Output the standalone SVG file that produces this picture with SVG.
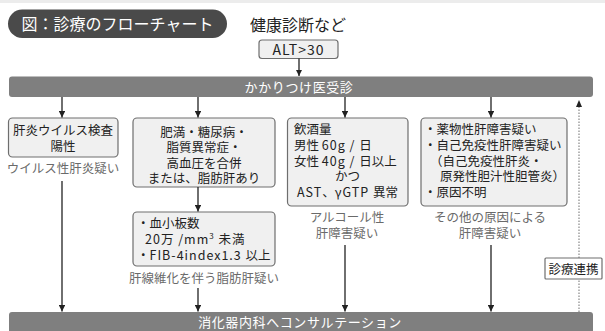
<svg xmlns="http://www.w3.org/2000/svg" width="605" height="331" viewBox="0 0 605 331">
<style>
text{font-family:"Noto Sans CJK JP","Noto Sans",sans-serif;}
.bx{fill:#f0f0f0;stroke:#6e6e6e;stroke-width:1.2;}
.bar{fill:#7f7f7f;}
.t{font-size:12.5px;fill:#222;}
.lt{letter-spacing:1px;}
.lb{font-size:12.5px;fill:#6a6a6a;text-anchor:middle;}
.bt{font-size:13px;fill:#fff;text-anchor:middle;letter-spacing:0.6px;}
.ln{stroke:#222;stroke-width:1.3;fill:none;}
.dot{stroke:#888;stroke-width:1.2;stroke-dasharray:1.5 1.5;fill:none;}
</style>
<defs>
<marker id="ah" viewBox="0 0 10 10" refX="10" refY="5" markerWidth="5" markerHeight="5" orient="auto" markerUnits="strokeWidth"><path d="M0,0L10,5L0,10z" fill="#222"/></marker>
</defs>
<rect x="0" y="0" width="605" height="3" fill="#ececec"/>
<g id="title">
<rect x="8" y="9.5" width="219" height="28.5" rx="14.25" fill="#4a4a4a"/>
<text x="117.5" y="30" font-size="16" fill="#fff" text-anchor="middle">図：診療のフローチャート</text>
</g>
<g id="kenshin">
<text x="250" y="31" font-size="16" fill="#222">健康診断など</text>
</g>
<g id="alt">
<rect class="bx" x="259" y="40" width="79" height="18.5" rx="3"/>
<text x="298.5" y="54.5" font-size="14" fill="#222" text-anchor="middle" letter-spacing="1">ALT&gt;30</text>
</g>
<g id="kakaritsuke">
<rect class="bar" x="9" y="76.5" width="584" height="20.5" rx="3"/>
<text class="bt" x="299" y="91.5">かかりつけ医受診</text>
</g>
<g id="virus">
<rect class="bx" x="8.5" y="118" width="109.5" height="39" rx="4"/>
<text class="t" x="63" y="135" text-anchor="middle">肝炎ウイルス検査</text>
<text class="t" x="63" y="151" text-anchor="middle">陽性</text>
<text class="lb" x="63" y="173">ウイルス性肝炎疑い</text>
</g>
<g id="himan">
<rect class="bx" x="133" y="118" width="142" height="69" rx="4"/>
<text class="t" x="204" y="136.5" text-anchor="middle">肥満・糖尿病・</text>
<text class="t" x="204" y="152" text-anchor="middle">脂質異常症・</text>
<text class="t" x="204" y="167.5" text-anchor="middle">高血圧を合併</text>
<text class="t" x="204" y="183" text-anchor="middle">または、脂肪肝あり</text>
</g>
<g id="fib4">
<rect class="bx" x="133" y="212" width="142" height="54" rx="4"/>
<text class="t" x="137" y="228">・血小板数</text>
<text class="t lt" x="145" y="243.5">20万 /mm<tspan font-size="8" dy="-5">3</tspan><tspan dy="5"> 未満</tspan></text>
<text class="t" x="137" y="259.5">・<tspan class="lt">FIB-4index1.3 </tspan>以上</text>
<text class="lb" x="204" y="283">肝線維化を伴う脂肪肝疑い</text>
</g>
<g id="alcohol">
<rect class="bx" x="287.5" y="118" width="120.5" height="88" rx="4"/>
<text class="t" x="294" y="133.5">飲酒量</text>
<text class="t" x="294" y="149.5">男性 <tspan class="lt">60g / </tspan>日</text>
<text class="t" x="294" y="165.5">女性 <tspan class="lt">40g / </tspan>日以上</text>
<text class="t" x="347.5" y="181" text-anchor="middle">かつ</text>
<text class="t" x="347.5" y="197" text-anchor="middle"><tspan class="lt">AST</tspan>、<tspan class="lt">γGTP </tspan>異常</text>
<text class="lb" x="347" y="222">アルコール性</text>
<text class="lb" x="347" y="237.5">肝障害疑い</text>
</g>
<g id="other">
<rect class="bx" x="421" y="118" width="146" height="88" rx="4"/>
<text class="t" x="424" y="133.5">・薬物性肝障害疑い</text>
<text class="t" x="424" y="149.5">・自己免疫性肝障害疑い</text>
<text class="t" x="430" y="165.5">（自己免疫性肝炎・</text>
<text class="t" x="440" y="181">原発性胆汁性胆管炎）</text>
<text class="t" x="424" y="197">・原因不明</text>
<text class="lb" x="490" y="222">その他の原因による</text>
<text class="lb" x="490" y="237.5">肝障害疑い</text>
</g>
<g id="consult">
<rect class="bar" x="9" y="312" width="584" height="26" rx="3"/>
<text class="bt" x="300" y="326.5">消化器内科へコンサルテーション</text>
</g>
<g id="connectors">
<line class="ln" x1="299" y1="58.5" x2="299" y2="76" marker-end="url(#ah)"/>
<line class="ln" x1="62" y1="97" x2="62" y2="117.5" marker-end="url(#ah)"/>
<line class="ln" x1="198" y1="97" x2="198" y2="117.5" marker-end="url(#ah)"/>
<line class="ln" x1="345" y1="97" x2="345" y2="117.5" marker-end="url(#ah)"/>
<line class="ln" x1="491" y1="97" x2="491" y2="117.5" marker-end="url(#ah)"/>
<line class="ln" x1="198" y1="187" x2="198" y2="211.5" marker-end="url(#ah)"/>
<line class="ln" x1="62" y1="181" x2="62" y2="311.5" marker-end="url(#ah)"/>
<line class="ln" x1="198" y1="288" x2="198" y2="311.5" marker-end="url(#ah)"/>
<line class="ln" x1="345" y1="245" x2="345" y2="311.5" marker-end="url(#ah)"/>
<line class="ln" x1="491" y1="245" x2="491" y2="311.5" marker-end="url(#ah)"/>
<line class="dot" x1="579" y1="312" x2="579" y2="106"/>
<path d="M576,107L579,100L582,107z" fill="#222"/>
</g>
<g id="renkei">
<rect x="545" y="258" width="57" height="21" fill="#fff" stroke="#6e6e6e" stroke-width="1.2" rx="1"/>
<text x="573.5" y="273.5" font-size="12.5" fill="#222" text-anchor="middle">診療連携</text>
</g>
</svg>
